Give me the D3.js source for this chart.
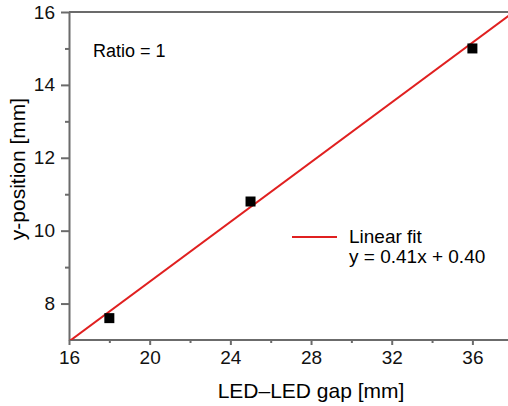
<!DOCTYPE html>
<html>
<head>
<meta charset="utf-8">
<script src="https://cdn.jsdelivr.net/npm/d3@7"></script>
<style>
  html, body { margin: 0; padding: 0; background: #fff; }
  svg { display: block; font-family: "Liberation Sans", Arial, sans-serif; }
  .axis path, .axis line { stroke: #6b6b6b; stroke-width: 2; }
  .axis text { fill: #111; font-size: 19px; }
</style>
</head>
<body>
<div id="container"></div>
<script>
// ---------------- DATA ----------------
const gapMm = [18, 25, 36];
const yPosMm = [7.6, 10.8, 15.0];
const fitSlope = 0.41;
const fitIntercept = 0.40;
const xTicks = [16, 20, 24, 28, 32, 36];
const xMinorTicks = [18, 22, 26, 30, 34, 38];
const yTicks = [8, 10, 12, 14, 16];
const yMinorTicks = [9, 11, 13, 15];

// ---------------- SVG ----------------
const width = 508, height = 406;
const plotLeft = 69, plotTop = 12, plotBottom = 340;
const svg = d3.select("#container").append("svg")
    .attr("width", width)
    .attr("height", height);

const x = d3.scaleLinear().domain([16, 38]).range([plotLeft, plotLeft + 22 * 20.17]);
const y = d3.scaleLinear().domain([7, 16]).range([plotBottom, plotTop]);

svg.append("defs").append("clipPath").attr("id", "plot")
    .append("rect")
    .attr("x", plotLeft).attr("y", plotTop)
    .attr("width", width - plotLeft).attr("height", plotBottom - plotTop);

// top frame line
svg.append("line")
    .attr("x1", plotLeft).attr("x2", width)
    .attr("y1", plotTop).attr("y2", plotTop)
    .attr("stroke", "#6b6b6b").attr("stroke-width", 2);

// ---------------- AXES ----------------
const xAxis = svg.append("g").attr("class", "axis")
    .attr("transform", "translate(0," + plotBottom + ")")
    .call(d3.axisBottom(x).tickValues(xTicks).tickSize(5).tickSizeOuter(0).tickPadding(6));
xAxis.select(".domain").attr("d", "M" + plotLeft + ",0H" + width);

svg.append("g").attr("class", "axis")
    .attr("transform", "translate(0," + plotBottom + ")")
    .call(d3.axisBottom(x).tickValues(xMinorTicks).tickSize(3).tickFormat(""))
    .select(".domain").remove();

svg.append("g").attr("class", "axis")
    .attr("transform", "translate(" + plotLeft + ",0)")
    .call(d3.axisLeft(y).tickValues(yTicks).tickSize(8).tickSizeOuter(0).tickPadding(6));

svg.append("g").attr("class", "axis")
    .attr("transform", "translate(" + plotLeft + ",0)")
    .call(d3.axisLeft(y).tickValues(yMinorTicks).tickSize(4).tickFormat(""))
    .select(".domain").remove();

// ---------------- FIT LINE ----------------
const fitX = x.domain();
svg.append("path")
    .datum(fitX.map(function (v) { return [v, fitSlope * v + fitIntercept]; }))
    .attr("clip-path", "url(#plot)")
    .attr("fill", "none")
    .attr("stroke", "#e02020")
    .attr("stroke-width", 2)
    .attr("d", d3.line().x(function (d) { return x(d[0]); }).y(function (d) { return y(d[1]); }));

// ---------------- POINTS ----------------
const sq = 10;
svg.selectAll("rect.pt")
    .data(gapMm.map(function (g, i) { return [g, yPosMm[i]]; }))
    .enter().append("rect")
    .attr("class", "pt")
    .attr("x", function (d) { return x(d[0]) - sq / 2; })
    .attr("y", function (d) { return y(d[1]) - sq / 2; })
    .attr("width", sq).attr("height", sq)
    .attr("fill", "#000");

// ---------------- LABELS ----------------
svg.append("text")
    .attr("x", 93).attr("y", 57)
    .style("font-size", "18px")
    .text("Ratio = 1");

svg.append("line")
    .attr("x1", 292).attr("x2", 337)
    .attr("y1", 237).attr("y2", 237)
    .attr("stroke", "#e02020").attr("stroke-width", 2);

svg.append("text").attr("x", 349).attr("y", 243)
    .style("font-size", "19px").text("Linear fit");
svg.append("text").attr("x", 349).attr("y", 263)
    .style("font-size", "19px").text("y = 0.41x + 0.40");

svg.append("text")
    .attr("x", 311).attr("y", 398)
    .attr("text-anchor", "middle")
    .style("font-size", "21px")
    .text("LED\u2013LED gap [mm]");

svg.append("text")
    .attr("transform", "translate(25,169) rotate(-90)")
    .attr("text-anchor", "middle")
    .style("font-size", "21px")
    .text("y-position [mm]");
</script>
</body>
</html>
